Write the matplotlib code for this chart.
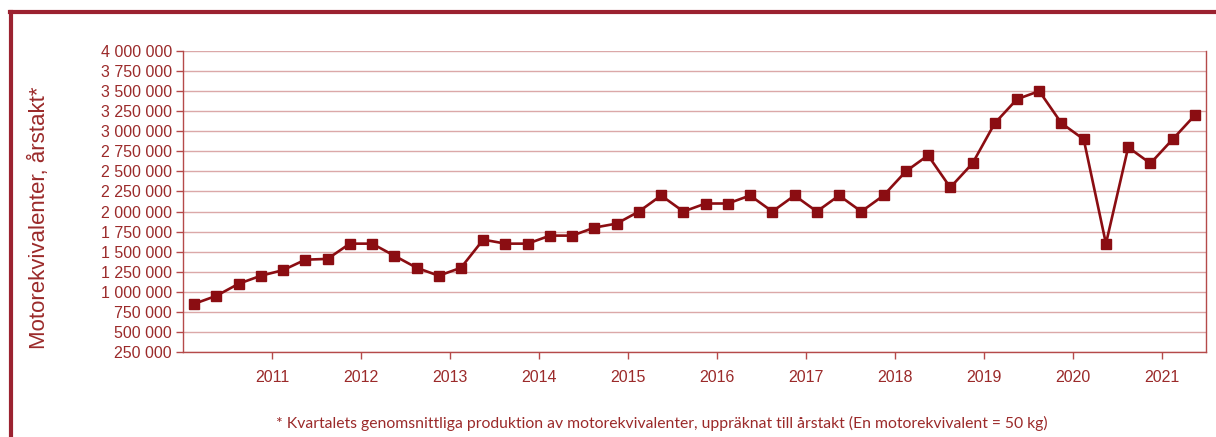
import numpy as np
import matplotlib.pyplot as plt
from matplotlib.lines import Line2D
from matplotlib.ticker import FuncFormatter

# Quarterly production, 2010 Q3 - 2021 Q4 (motorekvivalenter, annual rate)
values = [850000, 950000, 1100000, 1200000, 1270000, 1400000, 1410000, 1600000,
          1600000, 1450000, 1300000, 1200000, 1300000, 1650000, 1600000, 1600000,
          1700000, 1700000, 1800000, 1850000, 2000000, 2200000, 2000000, 2100000,
          2100000, 2200000, 2000000, 2200000, 2000000, 2200000, 2000000, 2200000,
          2500000, 2700000, 2300000, 2600000, 3100000, 3400000, 3500000, 3100000,
          2900000, 1600000, 2800000, 2600000, 2900000, 3200000]
years = ['2011', '2012', '2013', '2014', '2015', '2016', '2017', '2018',
         '2019', '2020', '2021']
yticks = np.arange(250000, 4000001, 250000)

dark = '#8b0d12'
text_col = '#9b2a2a'
grid_col = '#dba8a8'
spine_col = '#b54a4a'

plt.rcParams['font.family'] = ['Liberation Sans', 'DejaVu Sans']

fig = plt.figure(figsize=(12.16, 4.37), dpi=100)
ax = fig.add_axes([0.1505, 0.1945, 0.8413, 0.6888])

x = np.arange(len(values))
ax.plot(x, values, color=dark, lw=1.9, marker='s', markersize=6.5,
        markerfacecolor=dark, markeredgecolor=dark, zorder=3)

ax.set_xlim(-0.5, len(values) - 0.5)
ax.set_ylim(250000, 4000000)
ax.set_yticks(yticks)
ax.yaxis.set_major_formatter(FuncFormatter(lambda v, p: f'{int(v):,}'.replace(',', ' ')))
ax.set_xticks(np.arange(len(years)) * 4 + 3.5)
ax.set_xticklabels(years)
ax.grid(axis='y', color=grid_col, lw=1)
ax.set_axisbelow(True)

for s in ['left', 'bottom', 'right']:
    ax.spines[s].set_color(spine_col)
    ax.spines[s].set_linewidth(1)
ax.spines['top'].set_visible(False)

ax.tick_params(axis='y', colors=spine_col, labelcolor=text_col, labelsize=11.5,
               length=5, width=1, pad=3)
ax.tick_params(axis='x', colors=spine_col, labelcolor=text_col, labelsize=11.5,
               length=5, width=1, pad=8)

fig.text(39 / 1216, 1 - 217.5 / 437, 'Motorekvivalenter, årstakt*', rotation=90,
         ha='center', va='center', fontsize=16, color=text_col)

fig.text(0.544, 0.032, '* Kvartalets genomsnittliga produktion av motorekvivalenter, '
         'uppräknat till årstakt (En motorekvivalent = 50 kg)',
         ha='center', va='center', fontsize=11.3, color=text_col,
         family=['Lato', 'DejaVu Sans'])

# frame around the figure
border = '#9b2230'
fig.add_artist(Line2D([10 / 1216, 1], [1 - 12 / 437, 1 - 12 / 437],
                      color=border, lw=3, transform=fig.transFigure))
fig.add_artist(Line2D([11 / 1216, 11 / 1216], [0, 1 - 12 / 437],
                      color=border, lw=3, transform=fig.transFigure))

fig.savefig('out.png', dpi=100)
